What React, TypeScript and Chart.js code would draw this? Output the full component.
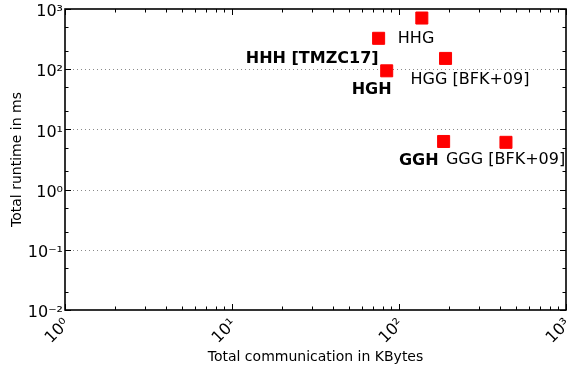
import { useEffect, useRef } from 'react';
import { Chart, registerables } from 'chart.js';

Chart.register(...registerables);

// ---- data ----
const pointNames = ['HHH [TMZC17]', 'HHG', 'HGH', 'HGG [BFK+09]', 'GGH', 'GGG [BFK+09]'];
const commKBytes = [75.5, 137, 84.4, 190, 185, 437];
const runtimeMs = [326, 708, 94, 151, 6.3, 6.1];
const boldNames = [true, false, true, false, true, false];

const xTickValues = [1, 10, 100, 1000];
const xTickLabels = ['10⁰', '10¹', '10²', '10³'];
const yTickValues = [0.01, 0.1, 1, 10, 100, 1000];
const yTickLabels = ['10⁻²', '10⁻¹', '10⁰', '10¹', '10²', '10³'];

const xTitle = 'Total communication in KBytes';
const yTitle = 'Total runtime in ms';

// label placement (style only): alignment and pixel offset from the marker centre
const labelPlacement = [
  { align: 'right', dx: 0, dy: 21 },
  { align: 'left', dx: -24, dy: 21 },
  { align: 'left', dx: -35, dy: 19 },
  { align: 'left', dx: -35, dy: 21 },
  { align: 'right', dx: -5, dy: 19 },
  { align: 'left', dx: -60, dy: 18 },
];

const FONT = '"DejaVu Sans", Verdana, sans-serif';

const minorFactorsX = [2, 3, 4, 5, 6, 7, 8, 9];
const minorFactorsY = [2, 5];

const framePlugin = {
  id: 'frameTicks',
  beforeDatasetsDraw(chart: any) {
    const { ctx, chartArea } = chart;
    const ys = chart.scales.y;
    ctx.save();
    ctx.strokeStyle = '#8a8a8a';
    ctx.lineWidth = 1;
    ctx.setLineDash([1, 3]);
    yTickValues.forEach((v) => {
      if (v <= yTickValues[0] || v >= yTickValues[yTickValues.length - 1]) return;
      const py = Math.round(ys.getPixelForValue(v)) + 0.5;
      ctx.beginPath();
      ctx.moveTo(chartArea.left, py);
      ctx.lineTo(chartArea.right, py);
      ctx.stroke();
    });
    ctx.restore();
  },
  afterDatasetsDraw(chart: any) {
    const { ctx } = chart;
    const xs = chart.scales.x;
    const ys = chart.scales.y;
    ctx.save();
    ctx.fillStyle = '#000';
    ctx.textBaseline = 'middle';
    pointNames.forEach((name, i) => {
      const px = xs.getPixelForValue(commKBytes[i]);
      const py = ys.getPixelForValue(runtimeMs[i]);
      const p = labelPlacement[i];
      ctx.font = `${boldNames[i] ? 'bold ' : ''}16px ${FONT}`;
      ctx.textAlign = p.align;
      ctx.fillText(name, px + p.dx, py + p.dy);
    });
    ctx.restore();
  },
  afterDraw(chart: any) {
    const { ctx, chartArea } = chart;
    const { left, right, top, bottom } = chartArea;
    const xs = chart.scales.x;
    const ys = chart.scales.y;
    ctx.save();
    ctx.strokeStyle = '#000';
    ctx.lineWidth = 1;
    const major = 6;
    const minor = 3.5;
    for (let d = 0; d < xTickValues.length; d++) {
      const base = xTickValues[d];
      const vals = [{ v: base, len: major }];
      if (d < xTickValues.length - 1) minorFactorsX.forEach((f) => vals.push({ v: base * f, len: minor }));
      vals.forEach(({ v, len }) => {
        const px = Math.round(xs.getPixelForValue(v)) + 0.5;
        ctx.beginPath();
        ctx.moveTo(px, bottom);
        ctx.lineTo(px, bottom - len);
        ctx.moveTo(px, top);
        ctx.lineTo(px, top + len);
        ctx.stroke();
      });
    }
    for (let d = 0; d < yTickValues.length; d++) {
      const base = yTickValues[d];
      const vals = [{ v: base, len: major }];
      if (d < yTickValues.length - 1) minorFactorsY.forEach((f) => vals.push({ v: base * f, len: minor }));
      vals.forEach(({ v, len }) => {
        const py = Math.round(ys.getPixelForValue(v)) + 0.5;
        ctx.beginPath();
        ctx.moveTo(left, py);
        ctx.lineTo(left + len, py);
        ctx.moveTo(right, py);
        ctx.lineTo(right - len, py);
        ctx.stroke();
      });
    }
    ctx.lineWidth = 1.6;
    ctx.strokeRect(left, top, right - left, bottom - top);
    ctx.restore();
  },
};

export default function App() {
  const canvasRef = useRef<HTMLCanvasElement | null>(null);

  useEffect(() => {
    const canvas = canvasRef.current;
    if (!canvas) return;
    const chart = new Chart(canvas, {
      type: 'scatter',
      data: {
        datasets: [
          {
            label: 'runtime',
            data: commKBytes.map((x, i) => ({ x, y: runtimeMs[i] })),
            pointStyle: 'rect',
            pointRadius: 8.5,
            pointHoverRadius: 8.5,
            backgroundColor: '#ff0000',
            borderColor: '#ff0000',
            borderWidth: 1,
          },
        ],
      },
      options: {
        responsive: false,
        animation: false,
        events: [],
        layout: { autoPadding: false, padding: { top: 9, right: 2, left: 0, bottom: 0 } },
        plugins: {
          legend: { display: false },
          tooltip: { enabled: false },
        },
        scales: {
          x: {
            type: 'logarithmic',
            position: 'bottom',
            min: 1,
            max: 1000,
            afterBuildTicks: (scale: any) => {
              scale.ticks = xTickValues.map((value) => ({ value, major: true }));
            },
            afterFit: (scale: any) => {
              scale.height = 63;
              scale.paddingLeft = 0;
              scale.paddingRight = 0;
              scale.paddingTop = 0;
              scale.paddingBottom = 0;
            },
            grid: { display: false, drawTicks: false },
            border: { display: false },
            ticks: {
              autoSkip: false,
              minRotation: 45,
              maxRotation: 45,
              padding: 5,
              labelOffset: 2,
              color: '#000',
              font: { family: FONT, size: 16 },
              callback: (value: any) => {
                const i = xTickValues.indexOf(Number(value));
                return i >= 0 ? xTickLabels[i] : '';
              },
            },
            title: {
              display: true,
              text: xTitle,
              color: '#000',
              font: { family: FONT, size: 14 },
              padding: { top: 0, bottom: 7 },
            },
          },
          y: {
            type: 'logarithmic',
            position: 'left',
            min: 0.01,
            max: 1000,
            afterBuildTicks: (scale: any) => {
              scale.ticks = yTickValues.map((value) => ({ value, major: true }));
            },
            afterFit: (scale: any) => {
              scale.width = 65;
              scale.paddingLeft = 0;
              scale.paddingRight = 0;
              scale.paddingTop = 0;
              scale.paddingBottom = 0;
            },
            grid: { display: false, drawTicks: false },
            border: { display: false },
            ticks: {
              autoSkip: false,
              padding: 2,
              labelOffset: 3,
              color: '#000',
              font: { family: FONT, size: 16 },
              callback: (value: any) => {
                const i = yTickValues.indexOf(Number(value));
                return i >= 0 ? yTickLabels[i] : '';
              },
            },
            title: {
              display: true,
              text: yTitle,
              color: '#000',
              font: { family: FONT, size: 14 },
              padding: { top: 9, bottom: 0 },
            },
          },
        },
      },
      plugins: [framePlugin],
    } as any);
    return () => chart.destroy();
  }, []);

  return (
    <div style={{ position: 'fixed', left: 0, top: 0, width: 568, height: 373, background: '#fff' }}>
      <canvas ref={canvasRef} width={568} height={373} style={{ display: 'block' }} />
    </div>
  );
}
